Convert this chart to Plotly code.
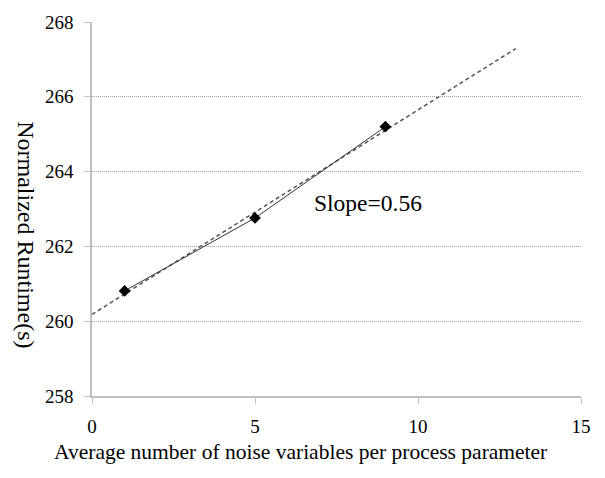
import plotly.graph_objects as go

# Data
noise_vars = [1, 5, 9]
runtime = [260.81, 262.76, 265.2]

trend_x = [0, 13]
trend_y = [260.18, 267.29]

x_ticks = [0, 5, 10, 15]
y_ticks = [258, 260, 262, 264, 266, 268]

FONT = "Liberation Serif"

fig = go.Figure()

fig.add_trace(go.Scatter(
    x=trend_x, y=trend_y, mode="lines",
    line=dict(color="#555555", width=1.5, dash="4px,3px"),
    showlegend=False, hoverinfo="skip"))

fig.add_trace(go.Scatter(
    x=noise_vars, y=runtime, mode="lines+markers",
    line=dict(color="#333333", width=1),
    marker=dict(symbol="diamond", size=9, color="black"),
    showlegend=False))

fig.update_layout(
    width=605, height=478,
    margin=dict(l=92, r=24, t=16, b=82),
    paper_bgcolor="white", plot_bgcolor="white",
    font=dict(family=FONT, size=19, color="black"),
    xaxis=dict(
        range=[0, 15], tickvals=x_ticks, showgrid=False,
        showline=True, linecolor="#bfbfbf", linewidth=1.5,
        ticks="outside", ticklen=6, tickcolor="#bfbfbf", tickwidth=1,
        zeroline=False, tickfont=dict(size=19, family=FONT, color="black"),
        ticklabelstandoff=6,
    ),
    yaxis=dict(
        range=[258, 268], tickvals=y_ticks, showgrid=True,
        gridcolor="#a0a0a0", griddash="1px,1px", gridwidth=1,
        showline=True, linecolor="#bfbfbf", linewidth=1.5,
        ticks="outside", ticklen=6, tickcolor="#bfbfbf", tickwidth=1,
        zeroline=False, tickfont=dict(size=19, family=FONT, color="black"),
        ticklabelstandoff=7,
    ),
    annotations=[
        dict(text="Slope=0.56", x=6.75, y=263.15, xref="x", yref="y",
             xanchor="left", yanchor="middle", showarrow=False,
             font=dict(size=23.5, family=FONT, color="black")),
        dict(text="Average number of noise variables per process parameter",
             x=0.4254, y=-0.15, xref="paper", yref="paper",
             xanchor="center", yanchor="middle", showarrow=False,
             font=dict(size=21.5, family=FONT, color="black")),
        dict(text="Normalized Runtime(s)", textangle=90,
             x=-0.135, y=0.43, xref="paper", yref="paper",
             xanchor="center", yanchor="middle", showarrow=False,
             font=dict(size=24, family=FONT, color="black")),
    ],
)

fig.write_html("out.html")
